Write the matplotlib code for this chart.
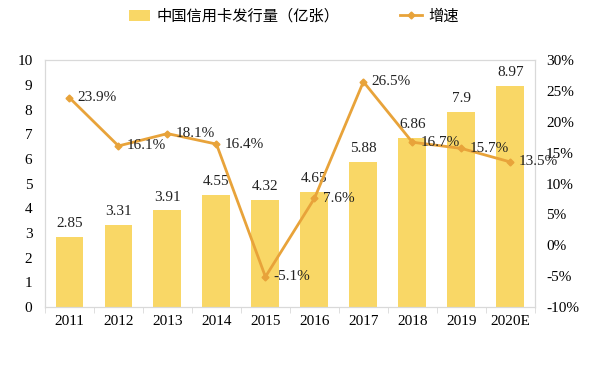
import matplotlib.pyplot as plt
import numpy as np

plt.rcParams['font.family'] = ['Liberation Serif', 'Noto Sans CJK SC', 'DejaVu Sans']

# data
years = ['2011', '2012', '2013', '2014', '2015', '2016', '2017', '2018', '2019', '2020E']
cards = [2.85, 3.31, 3.91, 4.55, 4.32, 4.65, 5.88, 6.86, 7.9, 8.97]
growth = [23.9, 16.1, 18.1, 16.4, -5.1, 7.6, 26.5, 16.7, 15.7, 13.5]

bar_color = '#F9D766'
line_color = '#E8A33A'
frame_color = '#D9D9D9'

fig = plt.figure(figsize=(6.03, 3.76), dpi=100)
ax = fig.add_axes([0.0746, 0.1835, 0.8124, 0.6565])
ax2 = ax.twinx()

x = np.arange(len(years))
bars = ax.bar(x, cards, width=0.57, color=bar_color, zorder=2, label='中国信用卡发行量（亿张）')
for xi, v in zip(x, cards):
    ax.annotate(f'{v:g}', (xi, v), xytext=(0, 5), textcoords='offset points',
                ha='center', va='bottom', fontsize=11, color='#222222')

ax.set_xlim(-0.5, len(years) - 0.5)
ax.set_ylim(0, 10)
ax.set_yticks(range(0, 11))
ax.set_xticks(x)
ax.set_xticklabels(years)
ax.set_xticks(np.arange(-0.5, len(years), 1), minor=True)
ax.tick_params(axis='x', which='major', length=0, pad=6, labelsize=11)
ax.tick_params(axis='x', which='minor', length=4, color=frame_color)
ax.tick_params(axis='y', length=0, pad=9, labelsize=11)

# growth line
line, = ax2.plot(x, growth, color=line_color, lw=2, marker='D', ms=3.5, zorder=3, label='增速')
for xi, v in zip(x, growth):
    ax2.annotate(f'{v:.1f}%', (xi, v), xytext=(6, 0), textcoords='offset points',
                 ha='left', va='center', fontsize=11, color='#222222')
ax2.set_ylim(-10, 30)
ax2.set_yticks(range(-10, 31, 5))
ax2.set_yticklabels([f'{t}%' for t in range(-10, 31, 5)])
ax2.tick_params(axis='y', length=0, pad=8, labelsize=11)

for a in (ax, ax2):
    for s in a.spines.values():
        s.set_color(frame_color)
ax.set_zorder(ax2.get_zorder() - 1)
ax.patch.set_visible(False)

fig.legend(handles=[bars, line], loc='center', bbox_to_anchor=(0.487, 0.957), ncol=2,
           frameon=False, columnspacing=4, handlelength=1.4, handletextpad=0.4,
           prop={'family': ['Noto Sans CJK SC'], 'size': 11})

fig.savefig('out.png', dpi=100)
